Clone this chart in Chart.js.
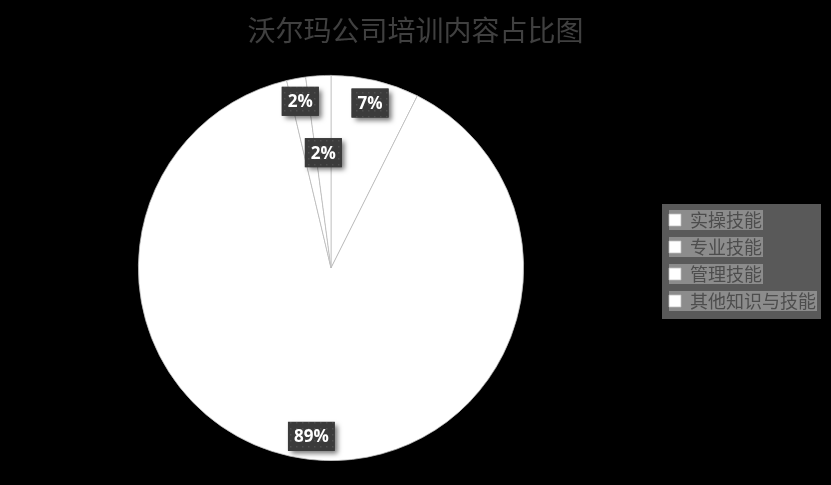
<!DOCTYPE html>
<html lang="zh">
<head>
  <meta charset="UTF-8">
  <title>沃尔玛公司培训内容占比图</title>
  <style>
    body {
      margin: 0;
      background: #000;
    }
    .chart-box {
      width: 831px;
      height: 485px;
      position: relative;
    }
  </style>
</head>
<body>
  <div class="chart-box">
    <canvas id="trainingPie"></canvas>
  </div>
  <script src="https://cdn.jsdelivr.net/npm/chart.js"></script>
  <script>
    // values (share of training content, %)
    const categories = ['实操技能', '专业技能', '管理技能', '其他知识与技能'];
    const shares = [7.4, 88.9, 1.6, 2.1];
    const chartTitle = '沃尔玛公司培训内容占比图';

    const LEGEND_FONT = 18;

    // small dotted fill used behind the data labels
    function dotPattern(ctx) {
      const c = document.createElement('canvas');
      c.width = 6;
      c.height = 6;
      const g = c.getContext('2d');
      g.fillStyle = '#3b3b3b';
      g.fillRect(0, 0, 6, 6);
      g.fillStyle = '#4f4f4f';
      g.fillRect(2, 2, 1.5, 1.5);
      return ctx.createPattern(c, 'repeat');
    }

    // legend: fixed width, grey box behind it and lighter strips behind each entry
    const legendBox = {
      id: 'legendBox',
      beforeLayout(chart) {
        const lg = chart.legend;
        if (lg && !lg._fixedWidth) {
          const fit = lg.fit;
          lg.fit = function () {
            fit.call(this);
            this.width = 169;
          };
          lg._fixedWidth = true;
        }
      },
      afterLayout(chart) {
        const lg = chart.legend;
        lg.top += 30;
        lg.bottom += 30;
        lg.left -= 2;
        lg.right -= 2;
      },
      beforeDraw(chart) {
        const lg = chart.legend;
        const boxes = lg.legendHitBoxes;
        if (!boxes || !boxes.length) return;
        const ctx = chart.ctx;
        ctx.save();
        ctx.font = LEGEND_FONT + 'px "Noto Sans CJK SC"';
        const first = boxes[0];
        const last = boxes[boxes.length - 1];
        const textX = first.left + 12 + LEGEND_FONT / 2;
        const maxW = Math.max(...categories.map(t => ctx.measureText(t).width));
        const left = first.left - 7;
        const top = first.top - 7;
        ctx.fillStyle = '#595959';
        ctx.fillRect(left, top, textX + maxW + 5 - left, last.top + last.height + 9 - top);
        ctx.fillStyle = '#8c8c8c';
        boxes.forEach((b, i) => {
          const w = ctx.measureText(categories[i]).width;
          ctx.fillRect(b.left, b.top + b.height / 2 - 10, textX + w + 1 - b.left, 20);
        });
        ctx.restore();
      }
    };

    // percentage labels in dark boxes with a drop shadow
    const boxLabels = {
      id: 'boxLabels',
      afterDatasetsDraw(chart, args, opts) {
        const ctx = chart.ctx;
        const meta = chart.getDatasetMeta(0);
        const total = shares.reduce((a, b) => a + b, 0);
        const pattern = dotPattern(ctx);
        ctx.save();
        ctx.font = 'bold 17px "Open Sans"';
        ctx.textAlign = 'center';
        ctx.textBaseline = 'middle';
        meta.data.forEach((arc, i) => {
          const mid = (arc.startAngle + arc.endAngle) / 2;
          const r = arc.outerRadius * opts.radius[i];
          const x = arc.x + Math.cos(mid) * r;
          const y = arc.y + Math.sin(mid) * r;
          const text = Math.round(shares[i] / total * 100) + '%';
          const w = ctx.measureText(text).width + 12;
          const h = 29;
          ctx.save();
          ctx.shadowColor = 'rgba(0, 0, 0, 0.55)';
          ctx.shadowBlur = 5;
          ctx.shadowOffsetX = 3;
          ctx.shadowOffsetY = 3;
          ctx.fillStyle = '#3b3b3b';
          ctx.fillRect(x - w / 2, y - h / 2, w, h);
          ctx.restore();
          ctx.fillStyle = pattern;
          ctx.fillRect(x - w / 2, y - h / 2, w, h);
          ctx.fillStyle = '#ffffff';
          ctx.fillText(text, x, y + 1);
        });
        ctx.restore();
      }
    };

    new Chart(document.getElementById('trainingPie'), {
      type: 'pie',
      data: {
        labels: categories,
        datasets: [{
          data: shares,
          backgroundColor: '#ffffff',
          borderColor: '#bdbdbd',
          borderWidth: 0.75,
          hoverOffset: 0
        }]
      },
      options: {
        responsive: true,
        maintainAspectRatio: false,
        animation: false,
        events: [],
        layout: {
          padding: { top: 0, left: 0, right: 0, bottom: 24 }
        },
        plugins: {
          title: {
            display: true,
            text: chartTitle,
            color: '#404040',
            font: { family: '"Noto Sans CJK SC"', size: 28, weight: 'normal' },
            padding: { top: 14, bottom: 27.4 }
          },
          legend: {
            position: 'right',
            labels: {
              boxWidth: 12,
              boxHeight: 12,
              padding: 9,
              color: '#4d4d4d',
              font: { family: '"Noto Sans CJK SC"', size: LEGEND_FONT }
            }
          },
          tooltip: { enabled: false },
          boxLabels: {
            radius: [0.88, 0.88, 0.88, 0.6]
          }
        }
      },
      plugins: [legendBox, boxLabels]
    });
  </script>
</body>
</html>
